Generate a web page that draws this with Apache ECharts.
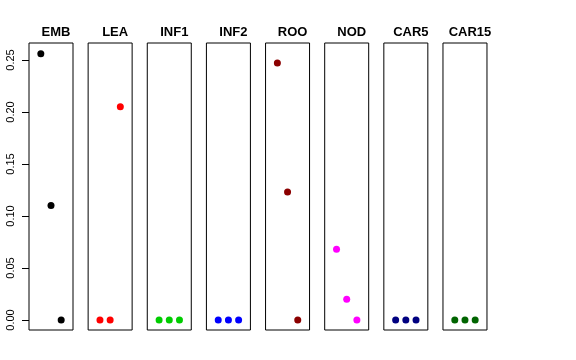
<!DOCTYPE html>
<html>
<head>
<meta charset="utf-8">
<script src="https://cdn.jsdelivr.net/npm/echarts@6/dist/echarts.min.js"></script>
<style>html,body{margin:0;padding:0;background:#fff}#c{width:576px;height:360px}</style>
</head>
<body>
<div id="c"></div>
<script>
// Data
const panels = ['EMB', 'LEA', 'INF1', 'INF2', 'ROO', 'NOD', 'CAR5', 'CAR15'];
const xIndex = [1, 2, 3];
const EMB = [0.256, 0.110, 0.000];
const LEA = [0.000, 0.000, 0.205];
const INF1 = [0.000, 0.000, 0.000];
const INF2 = [0.000, 0.000, 0.000];
const ROO = [0.247, 0.123, 0.000];
const NOD = [0.068, 0.020, 0.000];
const CAR5 = [0.000, 0.000, 0.000];
const CAR15 = [0.000, 0.000, 0.000];
const yTickValues = [0, 0.05, 0.10, 0.15, 0.20, 0.25];
const yTickLabels = ['0.00', '0.05', '0.10', '0.15', '0.20', '0.25'];

const values = { EMB, LEA, INF1, INF2, ROO, NOD, CAR5, CAR15 };
const colors = ['#000000', '#FF0000', '#00CD00', '#0000FF', '#8B0000', '#FF00FF', '#000080', '#006400'];

// Layout
const FONT = '"Liberation Sans", Arial, Helvetica, sans-serif';
const panelLeft0 = 29, panelStep = 59.14, panelW = 44;
const panelTop = 43, panelBottom = 330;
const yZero = 320, yTop = 60; // pixel rows of 0 and 0.25
const pxPerUnit = (yZero - yTop) / 0.25;
const yMax = (yZero - panelTop) / pxPerUnit;
const yMin = -(panelBottom - yZero) / pxPerUnit;

const grid = [], xAxis = [], yAxis = [], series = [], title = [];
panels.forEach((name, i) => {
  const left = panelLeft0 + i * panelStep;
  grid.push({ left: left, top: panelTop, width: panelW, height: panelBottom - panelTop,
    show: true, borderColor: '#000', borderWidth: 1, backgroundColor: 'transparent' });
  xAxis.push({ gridIndex: i, type: 'value', min: -0.16, max: 4.16, show: false });
  yAxis.push({ gridIndex: i, type: 'value', min: yMin, max: yMax, show: false });
  series.push({
    type: 'scatter', name: name, xAxisIndex: i, yAxisIndex: i,
    symbol: 'circle', symbolSize: 7,
    itemStyle: { color: colors[i], opacity: 1 },
    data: xIndex.map((x, k) => [x, values[name][k]])
  });
  title.push({ text: name, left: left + panelW / 2, top: 21, textAlign: 'center',
    textStyle: { fontFamily: FONT, fontSize: 13, fontWeight: 'bold', color: '#000' } });
});

// Axis-only grid for the y ticks/labels (spans 0 .. 0.25 exactly)
grid.push({ left: panelLeft0, top: yTop, width: panelW, height: yZero - yTop, show: false });
const ag = panels.length;
xAxis.push({ gridIndex: ag, type: 'value', min: 0, max: 1, show: false });
yAxis.push({
  gridIndex: ag, type: 'value', min: 0, max: 0.25, interval: 0.05,
  axisLine: { show: false },
  splitLine: { show: false },
  axisTick: { show: true, length: 7, lineStyle: { color: '#000', width: 1 } },
  axisLabel: { show: true, rotate: 90, margin: 13, color: '#000', fontFamily: FONT, fontSize: 11,
    formatter: v => { const k = yTickValues.findIndex(t => Math.abs(t - v) < 1e-9); return k >= 0 ? yTickLabels[k] : ''; } }
});

const chart = echarts.init(document.getElementById('c'), null, { renderer: 'canvas' });
chart.setOption({ animation: false, backgroundColor: '#fff', title, grid, xAxis, yAxis, series });
</script>
</body>
</html>
